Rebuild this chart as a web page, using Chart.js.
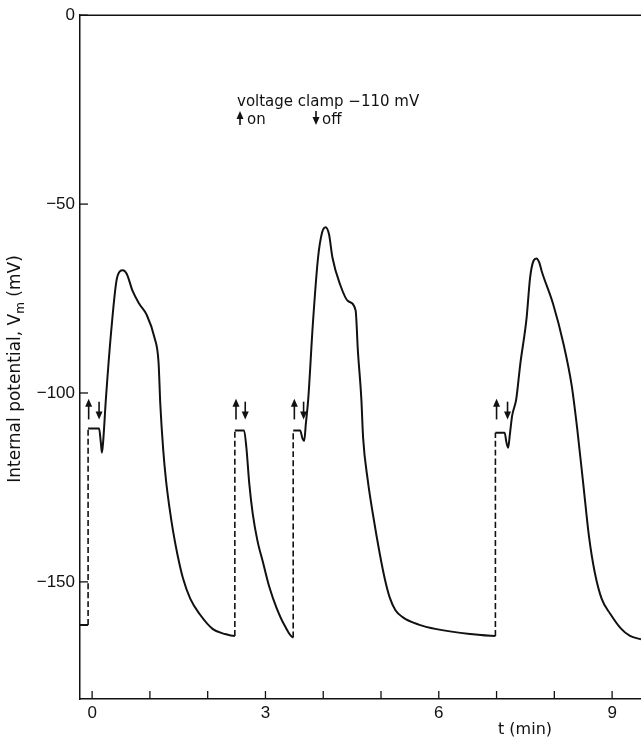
<!DOCTYPE html>
<html>
<head>
<meta charset="utf-8">
<script src="https://cdn.jsdelivr.net/npm/chart.js@4.4.1/dist/chart.umd.min.js"></script>
<style>
  html, body { margin: 0; padding: 0; background: #fff; }
  canvas { display: block; }
</style>
</head>
<body>
<canvas id="chart" width="641" height="738"></canvas>
<script>
// membrane potential trace, t in minutes, Vm in mV
const timeMin = [
  -0.21, -0.07, -0.07, 0.12, 0.15, 0.17, 0.19, 0.24, 0.33, 0.42, 0.48, 0.53, 0.60, 0.70, 0.82, 0.94,
  1.08, 1.15, 1.18, 1.23, 1.28, 1.34, 1.40, 1.48, 1.57, 1.70, 1.86, 2.09, 2.30, 2.47,
  2.47, 2.63, 2.67, 2.72, 2.78, 2.86, 2.96, 3.07, 3.19, 3.33, 3.48,
  3.48, 3.60, 3.64, 3.67, 3.70, 3.74, 3.82, 3.91, 3.98, 4.04, 4.10, 4.16, 4.29, 4.43, 4.56,
  4.60, 4.66, 4.69, 4.77, 4.86, 4.98, 5.07, 5.15, 5.25, 5.38, 5.65, 5.96, 6.54, 6.98,
  6.98, 7.14, 7.17, 7.20, 7.23, 7.27, 7.34, 7.41, 7.52, 7.58, 7.64, 7.69, 7.74, 7.78, 7.98, 8.16,
  8.30, 8.40, 8.50, 8.60, 8.70, 8.82, 8.97, 9.15, 9.31, 9.50
];
const potential = [
  -161.4, -161.4, -109.4, -109.4, -113, -115.8, -113, -101.2, -83.6, -70.4, -67.8, -67.5, -68.5, -73, -76.5, -79.2,
  -85.4, -92, -103, -115, -123.3, -130.5, -136.5, -143, -148.9, -154.5, -158.5, -162.5, -163.8, -164.3,
  -109.9, -109.9, -114.5, -124, -132, -139, -145, -151.5, -156.8, -161.5, -164.7,
  -109.9, -109.9, -112, -112.7, -108, -101.7, -81.8, -64.2, -57.5, -56.1, -58, -64.2, -71.2, -75.7, -78.1,
  -88.9, -101.7, -111.8, -123, -132.1, -142.7, -149.5, -154.1, -157.5, -159.4, -161.3, -162.5, -163.8, -164.3,
  -110.5, -110.5, -113, -114.5, -111, -106, -101.7, -92.4, -80.1, -69.5, -65, -64.4, -65.5, -67.7, -76.5, -87.1,
  -98, -110, -124, -138, -147.5, -154.5, -158.5, -162.3, -164.3, -165.2
];

// clamp switched on / off (arrow positions)
const clampOn = [-0.06, 2.49, 3.50, 7.00];
const clampOff = [0.12, 2.65, 3.66, 7.19];

const xTicks = [0, 1, 2, 3, 4, 5, 6, 7, 8, 9];
const xTickLabels = ['0', '', '', '3', '', '', '6', '', '', '9'];
const yTicks = [-150, -100, -50, 0];
const yTickLabels = ['\u2212150', '\u2212100', '\u221250', '0'];

const TICK_FONT = '"Liberation Sans", Arial, sans-serif';
const TEXT_FONT = '"DejaVu Sans", sans-serif';
const INK = '#111';

function arrow(ctx, x, yFrom, yTo) {
  const dir = yTo < yFrom ? -1 : 1;
  ctx.beginPath();
  ctx.moveTo(x, yFrom);
  ctx.lineTo(x, yTo - dir * 6);
  ctx.stroke();
  ctx.beginPath();
  ctx.moveTo(x, yTo);
  ctx.lineTo(x - 3.5, yTo - dir * 8);
  ctx.lineTo(x + 3.5, yTo - dir * 8);
  ctx.closePath();
  ctx.fill();
}

const decorations = {
  id: 'decorations',
  afterDraw(chart) {
    const { ctx, chartArea, scales: { x, y } } = chart;
    ctx.save();
    ctx.strokeStyle = INK;
    ctx.fillStyle = INK;

    // top frame line
    ctx.lineWidth = 1.5;
    ctx.beginPath();
    ctx.moveTo(chartArea.left, chartArea.top);
    ctx.lineTo(chartArea.right, chartArea.top);
    ctx.stroke();

    // inward tick marks
    ctx.lineWidth = 1.3;
    xTicks.forEach(t => {
      const px = x.getPixelForValue(t);
      ctx.beginPath();
      ctx.moveTo(px, chartArea.bottom);
      ctx.lineTo(px, chartArea.bottom - 8);
      ctx.stroke();
    });
    yTicks.forEach(v => {
      const py = y.getPixelForValue(v);
      ctx.beginPath();
      ctx.moveTo(chartArea.left, py);
      ctx.lineTo(chartArea.left + 8, py);
      ctx.stroke();
    });

    // clamp arrows
    ctx.lineWidth = 1.6;
    const yLow = y.getPixelForValue(-107);
    const yHigh = y.getPixelForValue(-101.5);
    clampOn.forEach(t => arrow(ctx, x.getPixelForValue(t), yLow, yHigh));
    clampOff.forEach(t => arrow(ctx, x.getPixelForValue(t), yHigh + 3, yLow));

    // legend note
    ctx.font = '15px ' + TEXT_FONT;
    ctx.textBaseline = 'alphabetic';
    ctx.textAlign = 'left';
    ctx.fillText('voltage clamp \u2212110 mV', 237, 106);
    arrow(ctx, 240, 125, 111);
    ctx.fillText('on', 247, 124);
    arrow(ctx, 316, 111, 125);
    ctx.fillText('off', 322, 124);

    // x axis title
    ctx.font = '16px ' + TEXT_FONT;
    ctx.fillText('t (min)', 498, 734);

    // y axis title with subscript
    ctx.translate(20, 369);
    ctx.rotate(-Math.PI / 2);
    const a = 'Internal potential, V';
    const b = 'm';
    const c = ' (mV)';
    ctx.font = '17px ' + TEXT_FONT;
    const wa = ctx.measureText(a).width;
    const wc = ctx.measureText(c).width;
    ctx.font = '12px ' + TEXT_FONT;
    const wb = ctx.measureText(b).width;
    let cx = -(wa + wb + wc) / 2;
    ctx.font = '17px ' + TEXT_FONT;
    ctx.fillText(a, cx, 0);
    cx += wa;
    ctx.font = '12px ' + TEXT_FONT;
    ctx.fillText(b, cx, 4);
    cx += wb;
    ctx.font = '17px ' + TEXT_FONT;
    ctx.fillText(c, cx, 0);
    ctx.restore();
  }
};

new Chart(document.getElementById('chart'), {
  type: 'line',
  data: {
    datasets: [{
      data: timeMin.map((t, i) => ({ x: t, y: potential[i] })),
      borderColor: INK,
      borderWidth: 2,
      pointRadius: 0,
      fill: false,
      cubicInterpolationMode: 'monotone',
      segment: {
        // the clamp jumps are dashed in the original
        borderDash: c => c.p0.parsed.x === c.p1.parsed.x ? [6, 3] : undefined,
        borderWidth: c => c.p0.parsed.x === c.p1.parsed.x ? 1.6 : undefined
      }
    }]
  },
  options: {
    responsive: false,
    animation: false,
    layout: { padding: { top: 14, right: 0, left: 0, bottom: 0 } },
    plugins: { legend: { display: false }, tooltip: { enabled: false } },
    scales: {
      x: {
        type: 'linear',
        min: -0.21,
        max: 9.5,
        afterBuildTicks: s => { s.ticks = xTicks.map(v => ({ value: v })); },
        afterFit: s => { s.height = 39; },
        grid: { display: false, drawTicks: false },
        border: { display: true, color: INK, width: 1.5 },
        ticks: {
          autoSkip: false,
          maxRotation: 0,
          padding: 4,
          color: INK,
          font: { family: TICK_FONT, size: 17 },
          callback: v => xTickLabels[xTicks.indexOf(v)]
        }
      },
      y: {
        type: 'linear',
        min: -181,
        max: 0,
        afterBuildTicks: s => { s.ticks = yTicks.map(v => ({ value: v })); },
        afterFit: s => { s.width = 80; },
        grid: { display: false, drawTicks: false },
        border: { display: true, color: INK, width: 1.5 },
        ticks: {
          padding: 5,
          color: INK,
          font: { family: TICK_FONT, size: 17 },
          callback: v => yTickLabels[yTicks.indexOf(v)]
        }
      }
    }
  },
  plugins: [decorations]
});
</script>
</body>
</html>
